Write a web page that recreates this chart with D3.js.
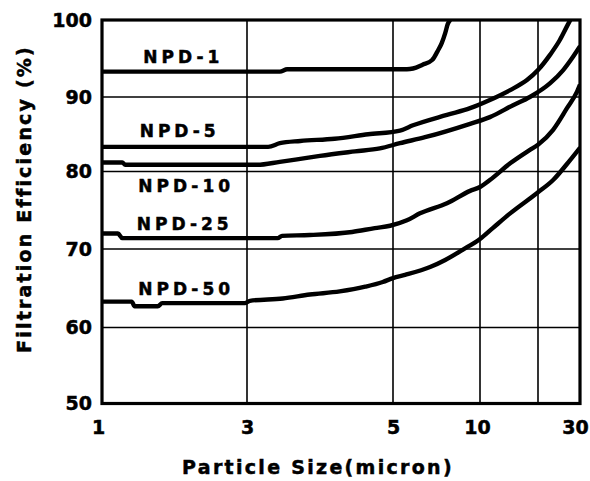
<!DOCTYPE html>
<html>
<head>
<meta charset="utf-8">
<script src="https://cdn.jsdelivr.net/npm/d3@7"></script>
<style>
  body { margin: 0; background: #fff; }
  text { font-family: "DejaVu Sans", sans-serif; font-weight: bold; fill: #000; stroke: #000; stroke-width: 0.5px; }
</style>
</head>
<body>
<script>
// axis values
var xTicks = [1, 3, 5, 10, 30],
    xGrid = [3, 5, 10, 20],
    yTicks = [50, 60, 70, 80, 90, 100];

// curves, [particle size, efficiency]
var npd1 = [[1, 93.3], [3.45, 93.3], [3.55, 93.6], [5.8, 93.6], [6.15, 93.7], [6.7, 94.2],
            [7.25, 94.8], [7.55, 95.9], [7.8, 97], [8.0, 98.3], [8.15, 99.5], [8.3, 100]];
var npd5 = [[1, 83.3], [3.29, 83.3], [3.45, 83.8], [3.73, 84.1], [4.2, 84.4], [4.66, 85.0],
            [5.4, 85.5], [6.15, 86.2], [8.1, 87.6], [9.43, 88.5], [11.7, 89.6], [15.2, 90.9],
            [18.1, 92.2], [20, 93.5], [22.9, 95.5], [25.2, 97.4], [27.1, 99.4], [27.7, 100]];
var npd10 = [[1, 81.2], [1.28, 81.2], [1.32, 80.9], [3.14, 80.9], [3.45, 81.3], [3.73, 81.7],
             [4.0, 82.1], [4.48, 82.7], [4.82, 83.1], [5.4, 83.8], [6.84, 84.6], [9.43, 86.4],
             [11.7, 87.3], [15.7, 88.9], [18.6, 90.0], [22.9, 91.8], [26.0, 93.5], [28.3, 95.2], [30, 96.6]];
var npd25 = [[1, 72.0], [1.22, 72.0], [1.28, 71.4], [3.42, 71.4], [3.48, 71.7], [3.86, 71.8],
             [4.44, 72.2], [4.75, 72.7], [4.96, 73.0], [5.8, 73.7], [6.55, 74.6], [8.1, 75.9],
             [9.43, 77.5], [10, 78.0], [11.7, 78.9], [15.2, 81.1], [18.6, 82.9], [20, 83.6],
             [23.6, 85.6], [26.9, 88.5], [29.3, 90.7], [30, 91.6]];
var npd50 = [[1, 63.3], [1.41, 63.3], [1.45, 62.7], [1.77, 62.7], [1.83, 63.1], [2.97, 63.1],
             [3.04, 63.4], [3.49, 63.7], [3.86, 64.2], [4.27, 64.6], [4.62, 65.2], [4.86, 65.8],
             [5, 66.3], [5.69, 66.7], [7.13, 67.7], [8.0, 68.6], [9.0, 69.9], [10, 71.3],
             [12.2, 72.7], [15.2, 74.6], [19.8, 77.2], [23.6, 78.9], [27.6, 81.5], [30, 83.2]];

var seriesNames = ["NPD-1", "NPD-5", "NPD-10", "NPD-25", "NPD-50"];
var seriesData = [npd1, npd5, npd10, npd25, npd50];
// label anchor in data units (left, baseline)
var labelPos = [[1.57, 94.4], [1.52, 84.6], [1.50, 77.4], [1.48, 72.5], [1.50, 64.1]];

var width = 590,
    height = 481;

var svg = d3.select("body").append("svg")
    .attr("width", width)
    .attr("height", height);

// the chart's axis is not a true log axis, so map it piecewise
var x = d3.scaleLinear()
    .domain([1, 3, 5, 10, 20, 30])
    .range([102, 247, 393, 480, 538, 580]);

var y = d3.scaleLinear()
    .domain([50, 60, 70, 80, 90, 100])
    .range([403.5, 327.5, 249, 171.5, 97, 20]);

// grid
svg.append("g").selectAll("line.gx")
  .data(xGrid)
  .enter().append("line")
    .attr("x1", function(d){ return x(d); })
    .attr("x2", function(d){ return x(d); })
    .attr("y1", y(100))
    .attr("y2", y(50))
    .attr("stroke", "#000")
    .attr("stroke-width", 1.6);

svg.append("g").selectAll("line.gy")
  .data(yTicks.slice(1, -1))
  .enter().append("line")
    .attr("x1", x(1))
    .attr("x2", x(30))
    .attr("y1", function(d){ return y(d); })
    .attr("y2", function(d){ return y(d); })
    .attr("stroke", "#000")
    .attr("stroke-width", 1.6);

// frame
svg.append("rect")
    .attr("x", x(1))
    .attr("y", y(100))
    .attr("width", x(30) - x(1))
    .attr("height", y(50) - y(100))
    .attr("fill", "none")
    .attr("stroke", "#000")
    .attr("stroke-width", 3.2);

svg.append("clipPath").attr("id", "clip")
  .append("rect")
    .attr("x", x(1))
    .attr("y", y(100))
    .attr("width", x(30) - x(1))
    .attr("height", y(50) - y(100));

var line = d3.line()
    .x(function(d){ return x(d[0]); })
    .y(function(d){ return y(d[1]); })
    .curve(d3.curveMonotoneX);

svg.append("g")
    .attr("clip-path", "url(#clip)")
  .selectAll("path")
  .data(seriesData)
  .enter().append("path")
    .attr("d", line)
    .attr("fill", "none")
    .attr("stroke", "#000")
    .attr("stroke-width", 4.4)
    .attr("stroke-linejoin", "round");

svg.append("g").selectAll("text")
  .data(seriesNames)
  .enter().append("text")
    .attr("x", function(d, i){ return x(labelPos[i][0]); })
    .attr("y", function(d, i){ return y(labelPos[i][1]); })
    .style("font-size", "17px")
    .style("letter-spacing", "4px")
    .text(function(d){ return d; });

// axes
var yAxis = svg.append("g")
    .attr("transform", "translate(" + x(1) + ",0)")
    .call(d3.axisLeft(y).tickValues(yTicks).tickSize(0).tickPadding(10));
yAxis.select(".domain").remove();
yAxis.selectAll("text")
    .style("font-family", "'DejaVu Sans', sans-serif")
    .style("font-weight", "bold")
    .style("font-size", "19px");

var xAxis = svg.append("g")
    .attr("transform", "translate(0," + y(50) + ")")
    .call(d3.axisBottom(x).tickValues(xTicks).tickFormat(d3.format("d")).tickSize(0).tickPadding(17));
xAxis.select(".domain").remove();
xAxis.selectAll("text")
    .style("font-family", "'DejaVu Sans', sans-serif")
    .style("font-weight", "bold")
    .style("font-size", "19px")
    .attr("dx", function(d){ return d === 1 ? -4 : d === 10 ? -3 : d === 30 ? -5 : 0; });

svg.append("text")
    .attr("x", 318)
    .attr("y", 474)
    .attr("text-anchor", "middle")
    .style("font-size", "19px")
    .style("letter-spacing", "2.3px")
    .text("Particle Size(micron)");

svg.append("text")
    .attr("transform", "translate(31,199) rotate(-90)")
    .attr("text-anchor", "middle")
    .style("font-size", "19px")
    .style("letter-spacing", "2.2px")
    .text("Filtration Efficiency (%)");
</script>
</body>
</html>
